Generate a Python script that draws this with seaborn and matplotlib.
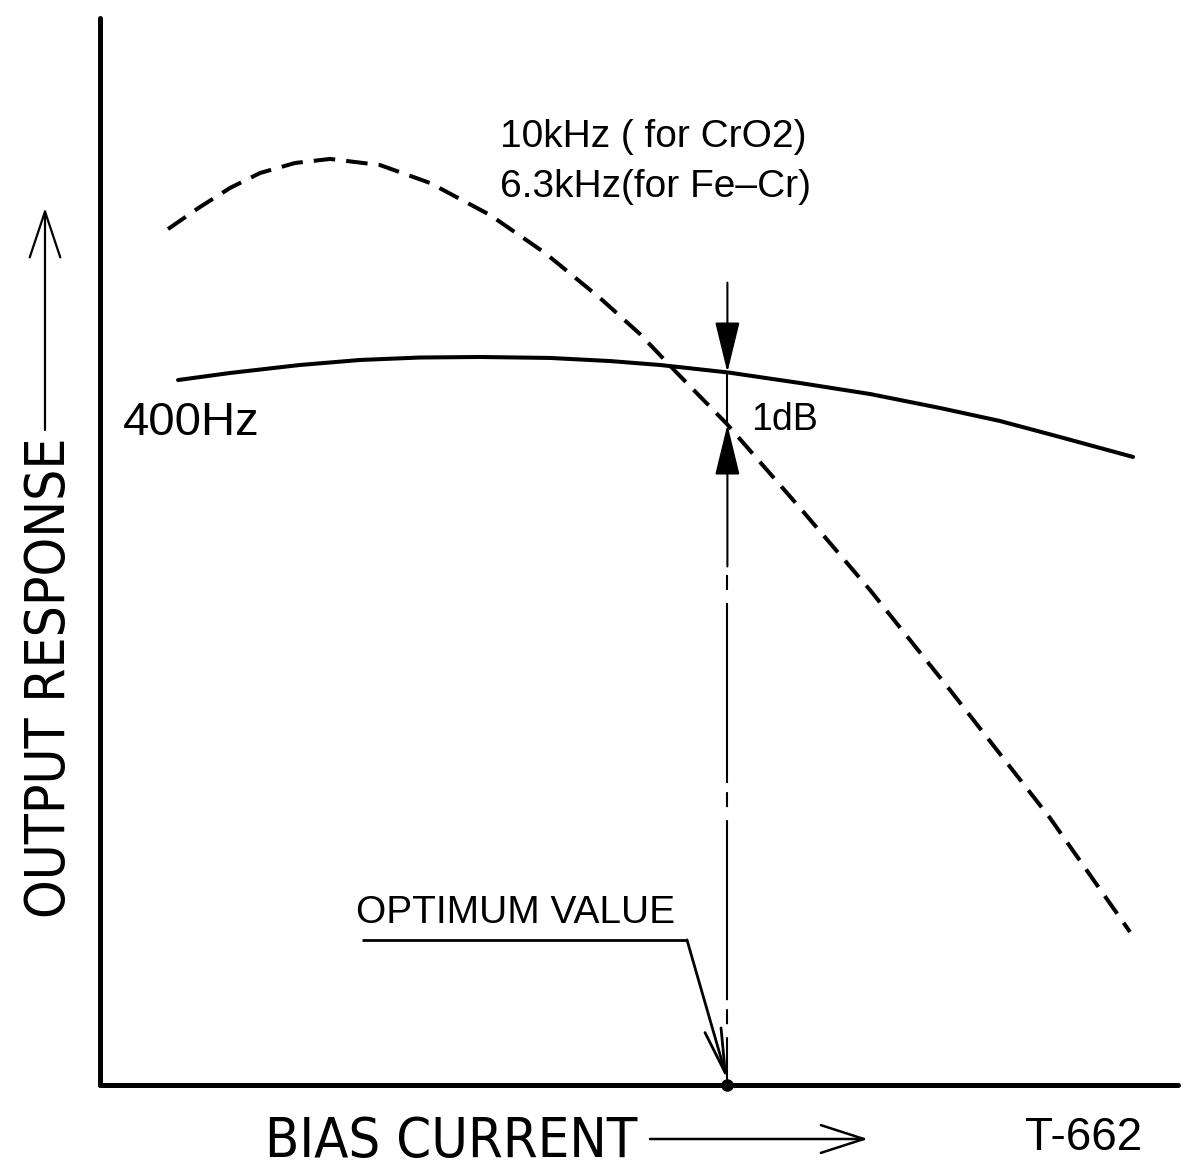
import numpy as np
import pandas as pd
import matplotlib
matplotlib.use("Agg")
import matplotlib.pyplot as plt
from matplotlib import font_manager as fm
import seaborn as sns

# ---------------- data (arbitrary units: bias 0-100, output 0-100) ----------------
bias_400hz = [7.24, 12.06, 18.55, 24.12, 29.68, 35.25, 41.74, 47.31, 51.95, 58.26,
              64.94, 71.43, 77.92, 83.49, 89.05, 95.83]
resp_400hz = [66.07, 66.73, 67.48, 67.95, 68.18, 68.23, 68.14, 67.85, 67.48, 66.78,
              65.79, 64.76, 63.45, 62.23, 60.73, 58.86]

bias_hf = [6.31, 9.28, 12.06, 14.84, 18.09, 21.34, 25.97, 30.61, 36.18, 41.28,
           46.38, 50.09, 53.53, 58.07, 64.94, 71.43, 78.85, 88.13, 95.55]
resp_hf = [80.22, 82.29, 84.07, 85.47, 86.41, 86.79, 86.22, 84.54, 81.54, 77.98,
           73.76, 70.38, 66.73, 62.04, 54.08, 46.39, 37.02, 25.02, 14.34]

optimum_bias = 58.2

label_hf = ["10kHz ( for CrO2)", "6.3kHz(for Fe–Cr)"]
label_lf = "400Hz"
label_gap = "1dB"
label_opt = "OPTIMUM VALUE"
x_label = "BIAS CURRENT"
y_label = "OUTPUT RESPONSE"
fig_code = "T-662"

# ---------------- style ----------------
sns.set_theme(style="white")
plt.rcParams["font.family"] = ["Liberation Sans", "DejaVu Sans"]
plt.rcParams["text.color"] = "black"
plt.rcParams["lines.scale_dashes"] = False
REG = ["Liberation Sans", "DejaVu Sans"]


# prefer an upright condensed face for the long axis captions, if installed
def _upright(f):
    fn = f.fname.lower()
    return (f.style == "normal" and f.weight in (400, "normal", "regular")
            and "italic" not in fn and "oblique" not in fn and "bold" not in fn
            and "light" not in fn)


cond_file = None
cands = [f for f in fm.fontManager.ttflist if _upright(f)]
for test in (lambda f: "narrow" in f.name.lower() and "liberation" in f.name.lower(),
             lambda f: f.name == "DejaVu Sans" and f.stretch in ("condensed", 75),
             lambda f: "condensed" in f.name.lower() or "narrow" in f.name.lower()):
    hit = [f for f in cands if test(f)]
    if hit:
        cond_file = hit[0].fname
        break

W, H = 1192, 1169
fig = plt.figure(figsize=(W / 100, H / 100), dpi=100)
fig.patch.set_facecolor("white")
ax = fig.add_axes([100 / W, 84 / H, 1078 / W, 1067 / H])
ax.set_xlim(0, 100)
ax.set_ylim(0, 100)
ax.set_facecolor("white")
for s in ["top", "right"]:
    ax.spines[s].set_visible(False)
for s in ["left", "bottom"]:
    ax.spines[s].set_linewidth(3.6)
    ax.spines[s].set_color("black")
    ax.spines[s].set_capstyle("round")
ax.set_xticks([])
ax.set_yticks([])


def fpx(px, py):
    return (px / W, 1 - py / H)


df_lf = pd.DataFrame({"bias": bias_400hz, "resp": resp_400hz})
df_hf = pd.DataFrame({"bias": bias_hf, "resp": resp_hf})

sns.lineplot(data=df_lf, x="bias", y="resp", ax=ax, color="black", linewidth=2.9,
             estimator=None, sort=False)
sns.lineplot(data=df_hf, x="bias", y="resp", ax=ax, color="black", linewidth=2.9,
             estimator=None, sort=False)
ax.lines[-1].set_linestyle((0, (15.5, 8.0)))
ax.set_xlabel("")
ax.set_ylabel("")

# ---------------- 1 dB markers at the optimum ----------------
y_lf = float(np.interp(optimum_bias, bias_400hz, resp_400hz))
y_hf = float(np.interp(optimum_bias, bias_hf, resp_hf))
y_top = 75.2      # top end of the upper arrow
y_low = 48.6      # where the lower arrow's solid shaft ends

head = "-|>,head_length=3.2,head_width=0.78"
ax.annotate("", xy=(optimum_bias, y_lf), xytext=(optimum_bias, y_top),
            arrowprops=dict(arrowstyle=head, color="black", lw=1.5,
                            shrinkA=0, shrinkB=0, mutation_scale=10))
ax.plot([optimum_bias, optimum_bias], [y_lf, y_hf], color="black", lw=1.5)
ax.annotate("", xy=(optimum_bias, y_hf), xytext=(optimum_bias, y_low),
            arrowprops=dict(arrowstyle=head, color="black", lw=1.5,
                            shrinkA=0, shrinkB=0, mutation_scale=10))
ax.plot([optimum_bias, optimum_bias], [y_low, 0], color="black", lw=1.5,
        linestyle=(129.6, (129.6, 6.5, 10.8, 9.4)))
ax.plot([optimum_bias], [0], marker="o", markersize=8, color="black", clip_on=False,
        zorder=5)

# ---------------- OPTIMUM VALUE leader ----------------
lead_y = 13.6
ax.plot([24.3, 54.45], [lead_y, lead_y], color="black", lw=2.0,
        solid_capstyle="butt")
ax.annotate("", xy=(optimum_bias, 0.45), xytext=(54.45, lead_y),
            arrowprops=dict(arrowstyle="->,head_length=3.2,head_width=0.6",
                            color="black", lw=2.0, shrinkA=0, shrinkB=0,
                            mutation_scale=10))

# ---------------- texts ----------------
fig.text(*fpx(500, 147), label_hf[0], fontsize=28, family=REG, ha="left", va="baseline")
fig.text(*fpx(500, 197), label_hf[1], fontsize=28, family=REG, ha="left", va="baseline")
fig.text(*fpx(123, 435), label_lf, fontsize=34, family=REG, ha="left", va="baseline")
fig.text(*fpx(751, 430), label_gap, fontsize=27, family=REG, ha="left", va="baseline")
fig.text(*fpx(356, 923), label_opt, fontsize=28, family=REG, ha="left", va="baseline")
fig.text(*fpx(1025, 1150), fig_code, fontsize=33, family=REG, ha="left", va="baseline")

if cond_file is not None:
    xl_kw = dict(fontproperties=fm.FontProperties(fname=cond_file, size=42))
    yl_kw = dict(fontproperties=fm.FontProperties(fname=cond_file, size=40))
else:
    xl_kw = dict(fontsize=42, family=REG)
    yl_kw = dict(fontsize=40, family=REG)

t_x = fig.text(*fpx(265, 1157), x_label, ha="left", va="baseline", **xl_kw)
t_y = fig.text(*fpx(50, 678), y_label, rotation=90, ha="center", va="center", **yl_kw)

# fit the captions to the span they take in the reference
fig.canvas.draw()
rend = fig.canvas.get_renderer()
for _ in range(2):
    bx = t_x.get_window_extent(rend)
    t_x.set_fontsize(t_x.get_fontsize() * 372.0 / bx.width)
    by = t_y.get_window_extent(rend)
    t_y.set_fontsize(t_y.get_fontsize() * 480.0 / by.height)
    fig.canvas.draw()

# axis-caption arrows
ax.annotate("", xy=fpx(868, 1139), xytext=fpx(650, 1139), xycoords="figure fraction",
            textcoords="figure fraction",
            arrowprops=dict(arrowstyle="->,head_length=3.1,head_width=1.0",
                            color="black", lw=1.8, shrinkA=0, shrinkB=0,
                            mutation_scale=10))
ax.annotate("", xy=fpx(45, 208), xytext=fpx(45, 430), xycoords="figure fraction",
            textcoords="figure fraction",
            arrowprops=dict(arrowstyle="->,head_length=3.3,head_width=1.1",
                            color="black", lw=1.6, shrinkA=0, shrinkB=0,
                            mutation_scale=10))

fig.savefig("out.png", dpi=100, facecolor="white")
